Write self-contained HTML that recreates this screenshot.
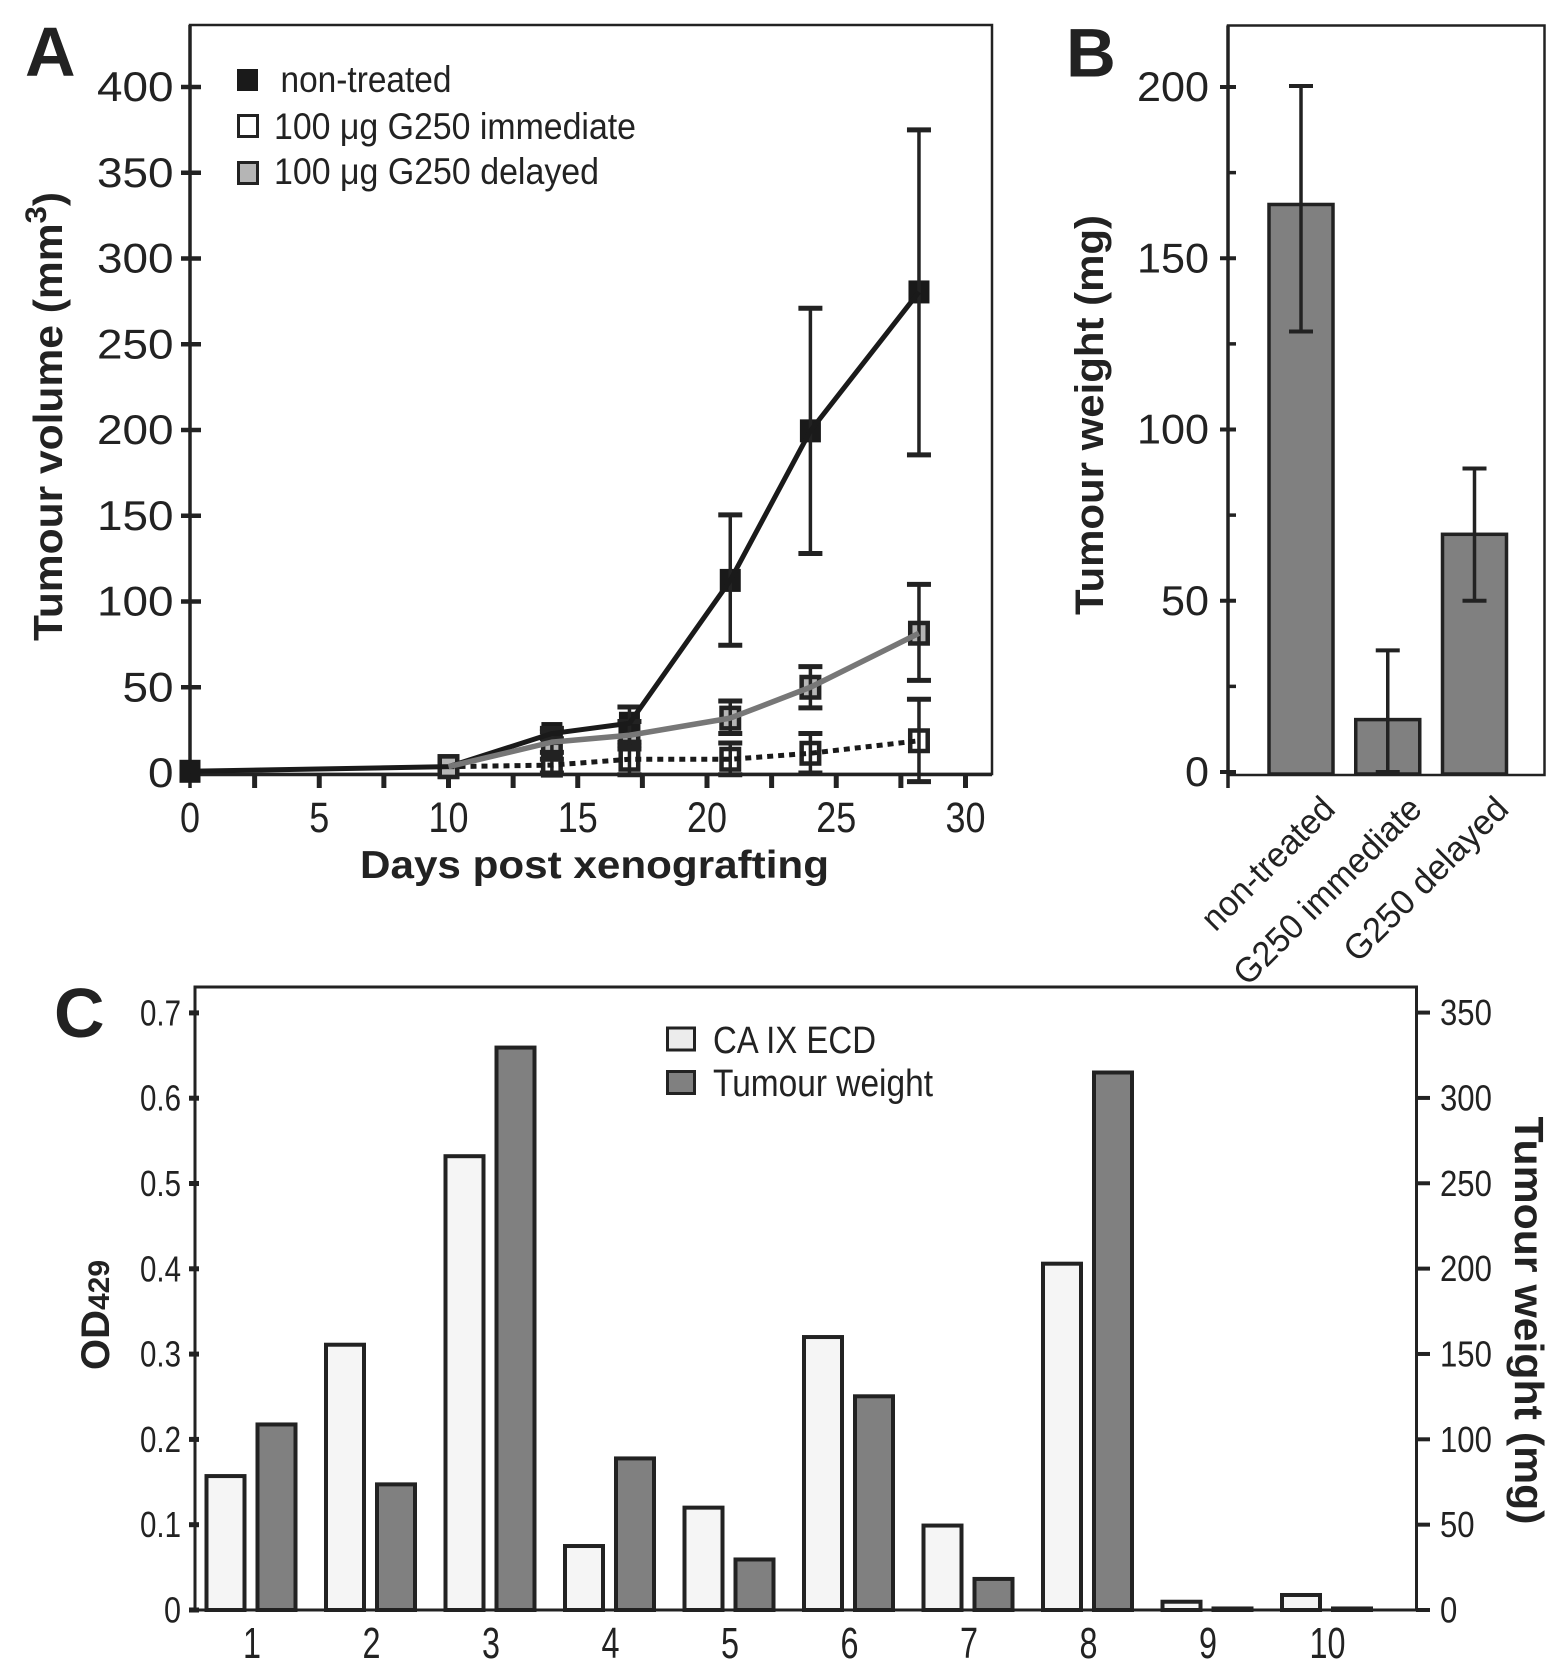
<!DOCTYPE html>
<html lang="en">
<head>
<meta charset="utf-8">
<title>Tumour growth and CA IX ECD</title>
<style>
html,body{margin:0;padding:0;background:#fff;}
svg{display:block;font-family:"Liberation Sans",sans-serif;}
</style>
</head>
<body>
<svg id="fig" xmlns="http://www.w3.org/2000/svg" width="1567" height="1671" viewBox="0 0 1567 1671">
<rect x="0" y="0" width="1567" height="1671" fill="#fff"/>
<text x="25" y="76" font-size="70" font-weight="bold" fill="#222">A</text>
<text x="1066" y="76.5" font-size="69" font-weight="bold" fill="#222">B</text>
<text x="54" y="1037" font-size="70" font-weight="bold" fill="#222">C</text>
<text transform="translate(62,641) rotate(-90)" font-size="41" font-weight="bold" fill="#222" textLength="449" lengthAdjust="spacingAndGlyphs">Tumour volume (mm<tspan font-size="30" dy="-16">3</tspan><tspan dy="16">)</tspan></text>
<text x="360" y="878" font-size="39" font-weight="bold" fill="#222" textLength="469" lengthAdjust="spacingAndGlyphs">Days post xenografting</text>
<text transform="translate(1103,615) rotate(-90)" font-size="40" font-weight="bold" fill="#222" textLength="400" lengthAdjust="spacingAndGlyphs">Tumour weight (mg)</text>
<text transform="translate(109,1370) rotate(-90)" font-size="40" font-weight="bold" fill="#222">OD<tspan font-size="30">429</tspan></text>
<text transform="translate(1515,1116.5) rotate(90)" font-size="41" font-weight="bold" fill="#222" textLength="408" lengthAdjust="spacingAndGlyphs">Tumour weight (mg)</text>
<g id="layer"></g>
</svg>
<script>
/* ---------- Panel A data ---------- */
const daysA = [0, 10, 14, 17, 20.9, 24, 28.2];
const nonTreatedVol = [1, 3.7, 23, 29, 112.3, 199.5, 280.5];
const nonTreatedHi = [null, null, 26, 38.5, 150.5, 271, 375];
const nonTreatedLo = [null, null, 20, 18, 74.5, 128, 185.5];
const immediateVol = [null, 3.7, 4.6, 8, 8, 11.5, 18.8];
const immediateHi = [null, null, 8, 16, 17.5, 23, 43];
const immediateLo = [null, null, 0, -1, -1, 0, -5];
const delayedVol = [null, 3.7, 18, 22, 32, 50, 81.5];
const delayedHi = [null, null, 24, 30, 42, 62, 110];
const delayedLo = [null, null, 12, 14, 23, 38, 54];
const aYTicks = ['0', '50', '100', '150', '200', '250', '300', '350', '400'];
const aXTicks = ['0', '5', '10', '15', '20', '25', '30'];
const aLegend = ['non-treated', '100 \u03BCg G250 immediate', '100 \u03BCg G250 delayed'];

/* ---------- Panel B data ---------- */
const bCategories = ['non-treated', 'G250 immediate', 'G250 delayed'];
const bValues = [165.7, 15.3, 69.4];
const bHi = [200.3, 35.5, 88.6];
const bLo = [128.6, 0, 50];
const bYTicks = ['0', '50', '100', '150', '200'];
const bMinorTicks = [25, 75, 125, 175];

/* ---------- Panel C data ---------- */
const cCategories = ['1', '2', '3', '4', '5', '6', '7', '8', '9', '10'];
const cOD = [0.157, 0.311, 0.532, 0.075, 0.120, 0.320, 0.099, 0.406, 0.0097, 0.0176];
const cWeight = [108.7, 73.6, 329.5, 88.8, 29.6, 125.2, 18.2, 314.9, 0.9, 0.9];
const cLeftTicks = ['0', '0.1', '0.2', '0.3', '0.4', '0.5', '0.6', '0.7'];
const cRightTicks = ['0', '50', '100', '150', '200', '250', '300', '350'];
const cLegend = ['CA IX ECD', 'Tumour weight'];

/* ---------- Scales ---------- */
const xA = d => 190 + d * 25.85;
const yA = v => 773 - v * 1.715;
const xB = i => 1301 + i * 86.75;
const yB = v => 772 - v * 3.425;
const xC = i => 251 + i * 119.5;
const yOD = v => 1610 - v * 853;
const yW = v => 1610 - v * 1.7069;

const INK = '#222';
const layer = document.getElementById('layer');
const NS = 'http://www.w3.org/2000/svg';

function mk(tag, name, attrs) {
  const el = document.createElementNS(NS, tag);
  
  
  for (const k in attrs) el.setAttribute(k, attrs[k]);
  layer.appendChild(el);
  return el;
}
function line(name, x1, y1, x2, y2, w, col) {
  return mk('line', name, {x1: x1, y1: y1, x2: x2, y2: y2, stroke: col || INK, 'stroke-width': w});
}
function box(name, x, y, w, h, fill, sw) {
  return mk('rect', name, {x: x, y: y, width: w, height: h, fill: fill, stroke: INK, 'stroke-width': sw});
}
function label(name, str, x, y, size, anchor, len, extra) {
  const a = {x: x, y: y, 'font-size': size, fill: INK, 'text-anchor': anchor || 'start'};
  if (len) { a.textLength = len; a.lengthAdjust = 'spacingAndGlyphs'; }
  if (extra) Object.assign(a, extra);
  const el = mk('text', name, a);
  el.textContent = str;
  return el;
}

/* ---------- Panel A ---------- */
box('panel-a-frame', 190, 25, 802, 749, 'none', 2.5);
line('panel-a-y-axis', 190, 25, 190, 788, 3.5);
line('panel-a-x-axis', 190, 774.5, 992, 774.5, 3.5);
aYTicks.forEach(t => {
  const v = +t;
  line('panel-a-y-tick-' + t, 181, yA(v), 201, yA(v), 4.5);
  label('panel-a-y-label-' + t, t, 173.5, yA(v) + 14, 42, 'end', t.length * 25.5);
});
for (let d = 2.5; d <= 30; d += 2.5) {
  line('panel-a-x-tick-' + d, xA(d), 775, xA(d), 788, 5);
}
aXTicks.forEach(t => {
  label('panel-a-x-label-' + t, t, xA(+t), 832, 43, 'middle', t.length * 20);
});

const seriesA = [
  {key: 'immediate', vals: immediateVol, hi: immediateHi, lo: immediateLo, fill: '#fff', w: 22, h: 25},
  {key: 'non-treated', vals: nonTreatedVol, hi: nonTreatedHi, lo: nonTreatedLo, fill: '#1a1a1a', w: 21, h: 23},
  {key: 'delayed', vals: delayedVol, hi: delayedHi, lo: delayedLo, fill: '#b5b5b5', w: 22, h: 25}
];
/* markers: at each day the series with the larger value is on top */
daysA.forEach((d, i) => {
  const present = seriesA.filter(s => s.vals[i] !== null);
  present.sort((a, b) => a.vals[i] - b.vals[i]);
  present.forEach(s => {
    const sw = s.fill === '#1a1a1a' ? 0 : 4.5;
    box(s.key + '-marker-day-' + d, xA(d) - s.w / 2 + sw / 2, yA(s.vals[i]) - s.h / 2 + sw / 2, s.w - sw, s.h - sw, s.fill, sw);
  });
});
/* error bars sit over the markers */
seriesA.forEach(s => {
  daysA.forEach((d, i) => {
    if (s.hi[i] === null) return;
    line(s.key + '-error-stem-day-' + d, xA(d), yA(s.hi[i]), xA(d), yA(s.lo[i]), 3.5);
    line(s.key + '-error-cap-high-day-' + d, xA(d) - 12, yA(s.hi[i]), xA(d) + 12, yA(s.hi[i]), 5);
    line(s.key + '-error-cap-low-day-' + d, xA(d) - 12, yA(s.lo[i]), xA(d) + 12, yA(s.lo[i]), 5);
  });
});
function polyPts(vals) {
  const p = [];
  daysA.forEach((d, i) => { if (vals[i] !== null) p.push(xA(d) + ',' + yA(vals[i])); });
  return p.join(' ');
}
mk('polyline', 'non-treated-line', {points: polyPts(nonTreatedVol), fill: 'none', stroke: '#1a1a1a', 'stroke-width': 5, 'stroke-linejoin': 'round'});
mk('polyline', 'immediate-line', {points: polyPts(immediateVol), fill: 'none', stroke: '#1a1a1a', 'stroke-width': 5, 'stroke-dasharray': '6 5'});
mk('polyline', 'delayed-line', {points: polyPts(delayedVol), fill: 'none', stroke: '#777', 'stroke-width': 5.5, 'stroke-linejoin': 'round'});

/* legend A */
box('legend-marker-non-treated', 237, 69, 21, 22, '#1a1a1a', 0);
box('legend-marker-immediate', 238.5, 115.5, 19, 21, '#fff', 3);
box('legend-marker-delayed', 238.5, 162.5, 19, 21, '#b5b5b5', 3);
label('legend-label-non-treated', aLegend[0], 280.5, 92, 37, 'start', 171);
label('legend-label-immediate', aLegend[1], 274, 139, 37, 'start', 362);
label('legend-label-delayed', aLegend[2], 274, 184, 37, 'start', 325);

/* ---------- Panel B ---------- */
box('panel-b-frame', 1228, 25.5, 316.5, 749.5, 'none', 2.5);
line('panel-b-y-axis', 1228, 25.5, 1228, 788, 3.5);
bYTicks.forEach(t => {
  line('panel-b-y-tick-' + t, 1220, yB(+t), 1236, yB(+t), 4);
  label('panel-b-y-label-' + t, t, 1209, yB(+t) + 14, 42, 'end', t.length * 24);
});
bMinorTicks.forEach(t => {
  line('panel-b-y-minor-tick-' + t, 1228, yB(t), 1236, yB(t), 3.5);
});
bCategories.forEach((c, i) => {
  const k = c.replace(/ /g, '-').toLowerCase();
  box('panel-b-bar-' + k, xB(i) - 32, yB(bValues[i]), 64, yB(0) + 2 - yB(bValues[i]), '#808080', 3.5);
  line('panel-b-error-stem-' + k, xB(i), yB(bHi[i]), xB(i), yB(bLo[i]), 3.5);
  line('panel-b-error-cap-high-' + k, xB(i) - 12, yB(bHi[i]), xB(i) + 12, yB(bHi[i]), 4);
  line('panel-b-error-cap-low-' + k, xB(i) - 12, yB(bLo[i]), xB(i) + 12, yB(bLo[i]), 4);
});
const bLabelLen = [172, 249, 216];
bCategories.forEach((c, i) => {
  const lx = xB(i) + 36;
  const ly = 811;
  label('panel-b-x-label-' + c.replace(/ /g, '-').toLowerCase(), c, 0, 0, 35, 'end', bLabelLen[i], {transform: 'translate(' + lx + ',' + ly + ') rotate(-45)'});
});

/* ---------- Panel C ---------- */
cCategories.forEach((c, i) => {
  const l = xC(i) - 46;
  box('panel-c-bar-od-' + c, l + 1.5, yOD(cOD[i]), 38, 1610 - yOD(cOD[i]), '#f5f5f5', 4);
  box('panel-c-bar-weight-' + c, l + 52.5, yW(cWeight[i]), 38, 1610 - yW(cWeight[i]), '#808080', 4);
  label('panel-c-x-label-' + c, c, xC(i) + 1, 1658, 44, 'middle', c.length * 18);
});
box('panel-c-frame', 195, 987, 1221.5, 623, 'none', 3);
cLeftTicks.forEach(t => {
  line('panel-c-left-tick-' + t, 189, yOD(+t), 199, yOD(+t), 5);
  label('panel-c-left-label-' + t, t, 181, yOD(+t) + 12.5, 36, 'end', t.length === 1 ? 17 : 41);
});
cRightTicks.forEach(t => {
  line('panel-c-right-tick-' + t, 1416, yW(+t), 1430, yW(+t), 4);
  label('panel-c-right-label-' + t, t, 1440, yW(+t) + 12.5, 36, 'start', t.length * 17.3);
});
box('legend-swatch-od', 667.5, 1028, 27, 22, '#ececec', 3);
box('legend-swatch-weight', 667.5, 1071.5, 27, 22, '#808080', 3);
label('legend-label-od', cLegend[0], 713, 1053, 38, 'start', 163);
label('legend-label-weight', cLegend[1], 713, 1096, 38, 'start', 220);
</script>
</body>
</html>
